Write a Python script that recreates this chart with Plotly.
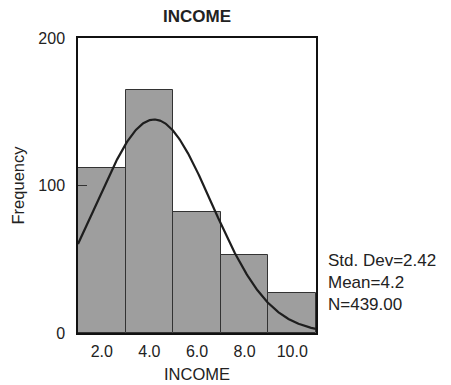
import numpy as np
import plotly.graph_objects as go

# Income histogram: bin centres (width 2) and counts
bin_centers = [2.0, 4.0, 6.0, 8.0, 10.0]
bin_width = 2.0
counts = [112, 165, 82, 53, 27]
tick_labels = ["2.0", "4.0", "6.0", "8.0", "10.0"]

# Summary statistics shown beside the plot
std_dev = 2.42
mean = 4.2
n_cases = 439.00

# Fitted normal curve scaled to frequency
xs = np.linspace(1.0, 11.0, 300)
pdf = np.exp(-0.5 * ((xs - mean) / std_dev) ** 2) / (std_dev * np.sqrt(2 * np.pi))
curve = pdf * n_cases * bin_width

font_family = "Liberation Sans, Arial, sans-serif"
ink = "#222222"

fig = go.Figure()
fig.add_trace(go.Bar(
    x=bin_centers, y=counts, width=bin_width,
    marker=dict(color="#9e9e9e", line=dict(color="#333333", width=1)),
    showlegend=False, hoverinfo="skip",
))
fig.add_trace(go.Scatter(
    x=xs, y=curve, mode="lines",
    line=dict(color="#1e1e1e", width=2.2),
    showlegend=False, hoverinfo="skip",
))

fig.update_layout(
    width=451, height=385,
    margin=dict(l=78, r=135, t=38, b=52),
    paper_bgcolor="white", plot_bgcolor="white",
    bargap=0,
    font=dict(family=font_family, size=16, color=ink),
    title=dict(text="<b>INCOME</b>", x=(78 + 119) / 451, xanchor="center",
               y=1 - 16 / 385, yanchor="middle",
               font=dict(size=17, color=ink)),
    xaxis=dict(
        range=[1, 11], tickvals=bin_centers, ticktext=tick_labels,
        showgrid=False, zeroline=False, ticks="",
        showline=True, linecolor="#111111", linewidth=1.5, mirror=True,
        ticklabelstandoff=3, automargin=False,
        title=dict(text="INCOME", standoff=9, font=dict(size=16.5)),
        tickfont=dict(size=16),
    ),
    yaxis=dict(
        range=[0, 200], tickvals=[0, 100, 200],
        showgrid=False, zeroline=False,
        ticks="inside", ticklen=9, tickcolor="#333333", tickwidth=1,
        showline=True, linecolor="#111111", linewidth=1.5, mirror=True,
        ticklabelstandoff=8, automargin=False,
        title=dict(text="Frequency", standoff=10, font=dict(size=16.5)),
        tickfont=dict(size=16),
    ),
    annotations=[dict(
        text=f"Std. Dev={std_dev:.2f}<br>Mean={mean:.1f}<br>N={n_cases:.2f}",
        xref="paper", yref="paper", x=1.04, y=0.17,
        xanchor="left", yanchor="middle", align="left",
        showarrow=False, font=dict(size=17, color=ink),
    )],
)

fig.write_html("out.html")
